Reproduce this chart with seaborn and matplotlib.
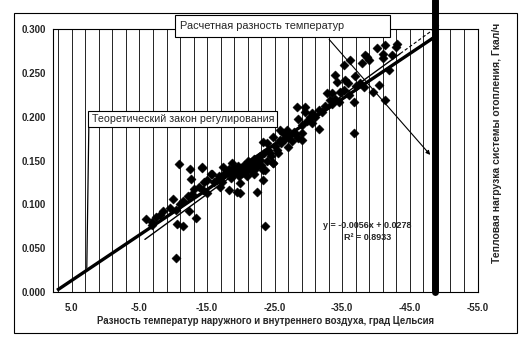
import matplotlib
matplotlib.use("Agg")
import matplotlib.pyplot as plt
import seaborn as sns
import pandas as pd
from matplotlib.patches import Rectangle

sns.set_style("white")
plt.rcParams['font.family'] = ['Liberation Sans', 'DejaVu Sans']

# scatter data (temperature difference, heat load)
temp_diff = [-5.9, -6.9, -6.8, -8.0, -9.9, -10.4, -10.5, -11.5, -10.4, -10.9,
             -12.5, -12.6, -14.2, -12.2, -12.4, -13.3, -14.4, -15.0, -15.6, -16.9,
             -16.7, -17.4, -18.2, -18.7, -18.9, -19.4, -19.9, -19.9, -20.4, -20.9,
             -21.4, -21.9, -22.4, -23.3, -23.3, -23.6, -23.3, -24.3, -24.8, -25.3,
             -25.8, -26.3, -22.9, -23.8, -24.8, -25.8, -26.8, -24.8, -23.6, -27.8,
             -29.0, -29.0, -28.3, -29.5, -28.5, -30.3, -30.5, -31.5, -31.5, -32.7,
             -33.2, -33.5, -34.5, -34.0, -34.2, -34.7, -35.2, -35.4, -35.9, -36.2,
             -35.2, -36.8, -36.7, -36.9, -37.7, -37.9, -38.2, -38.4, -38.7, -38.9,
             -39.6, -40.1, -40.4, -41.1, -41.4, -41.1, -41.4, -42.4, -42.9, -43.1,
             -41.9, -29.5, -14.2, -15.7,
             -16.0, -16.5, -17.0, -17.5, -18.0, -18.3, -18.8, -19.0, -19.3, -19.6,
             -20.0, -20.2, -20.5, -20.8, -21.0, -21.2, -21.5, -21.8, -22.0, -22.2,
             -22.5, -22.8, -23.0, -23.5, -23.8, -24.0, -24.5, -25.0, -25.5, -26.0,
             -26.5, -27.0, -27.2, -27.5, -28.0, -28.5, -29.0, -29.8, -30.5, -31.0,
             -32.0, -32.5, -33.5, -34.0, -36.0, -37.0, -14.5, -15.0, -13.8, -13.0,
             -12.8, -11.5, -11.0, -9.5, -8.5, -7.5, -17.2, -18.5, -19.8]
heat_load = [0.083, 0.080, 0.076, 0.088, 0.106, 0.094, 0.077, 0.075, 0.039, 0.146,
             0.140, 0.129, 0.142, 0.110, 0.092, 0.084, 0.116, 0.113, 0.135, 0.120,
             0.132, 0.143, 0.116, 0.147, 0.139, 0.114, 0.113, 0.124, 0.139, 0.132,
             0.147, 0.135, 0.114, 0.128, 0.139, 0.075, 0.171, 0.158, 0.147, 0.162,
             0.173, 0.181, 0.151, 0.170, 0.177, 0.185, 0.185, 0.147, 0.139, 0.183,
             0.181, 0.173, 0.211, 0.211, 0.197, 0.200, 0.204, 0.208, 0.186, 0.227,
             0.219, 0.227, 0.217, 0.248, 0.240, 0.228, 0.230, 0.242, 0.238, 0.265,
             0.259, 0.217, 0.181, 0.246, 0.238, 0.261, 0.234, 0.270, 0.268, 0.265,
             0.228, 0.278, 0.236, 0.272, 0.219, 0.267, 0.282, 0.270, 0.280, 0.283,
             0.253, 0.205, 0.143, 0.135,
             0.125, 0.128, 0.131, 0.135, 0.137, 0.140, 0.134, 0.142, 0.138, 0.144,
             0.141, 0.136, 0.145, 0.140, 0.150, 0.143, 0.138, 0.146, 0.152, 0.142,
             0.148, 0.155, 0.145, 0.158, 0.150, 0.162, 0.155, 0.166, 0.158, 0.170,
             0.175, 0.165, 0.178, 0.172, 0.180, 0.176, 0.190, 0.195, 0.193, 0.200,
             0.205, 0.212, 0.214, 0.220, 0.225, 0.235, 0.125, 0.128, 0.120, 0.118,
             0.112, 0.104, 0.100, 0.096, 0.092, 0.086, 0.126, 0.130, 0.132]

# theoretical control law line
theory_x = [7.2, -48.5]
theory_y = [0.002, 0.290]
# regression trend line (solid part and dashed extension)
trend_x = [-5.8, -43.6]
trend_y = [0.060, 0.272]
trend_ext_x = [-43.6, -49.5]
trend_ext_y = [0.272, 0.305]
# design temperature difference
design_x = -48.8

x_ticks = [5, -5, -15, -25, -35, -45, -55]
y_ticks = [0.0, 0.05, 0.10, 0.15, 0.20, 0.25, 0.30]
grid_x = list(range(7, -55, -2))

df = pd.DataFrame({"x": temp_diff, "y": heat_load})

fig = plt.figure(figsize=(5.29, 3.47), dpi=100)
ax = fig.add_axes([0.1002, 0.1585, 0.8034, 0.7579])

for g in grid_x:
    ax.axvline(g, color='black', lw=0.6, zorder=0)

sns.scatterplot(data=df, x="x", y="y", marker='D', color='black', s=22,
                edgecolor='black', linewidth=0.3, ax=ax, zorder=3)

ax.plot(theory_x, theory_y, color='black', lw=2.4, zorder=4, solid_capstyle='butt')
ax.plot(trend_x, trend_y, color='black', lw=1.0, zorder=4)
ax.plot(trend_ext_x, trend_ext_y, color='black', lw=0.8, ls=(0, (3, 2)), zorder=4, clip_on=False)
ax.axvline(design_x, ymin=0, ymax=1.11, color='black', lw=5, zorder=5, clip_on=False)

ax.set_xlim(7.8, -55.1)
ax.set_ylim(0, 0.3)
ax.set_xticks(x_ticks)
ax.set_xticklabels([f"{v:.1f}" for v in x_ticks])
ax.set_yticks(y_ticks)
ax.set_yticklabels([f"{v:.3f}" for v in y_ticks])
ax.tick_params(axis='both', length=0, labelsize=7)
ax.tick_params(axis='x', pad=8)
ax.tick_params(axis='y', pad=5)
for lab in ax.get_xticklabels() + ax.get_yticklabels():
    lab.set_fontweight('bold')
for sp in ax.spines.values():
    sp.set_color('black')
    sp.set_linewidth(0.8)

ax.set_xlabel("Разность температур наружного и внутреннего воздуха, град Цельсия",
              fontsize=6.9, fontweight='bold', labelpad=2)
ax.set_ylabel("")
fig.text(0.940, 0.588, "Тепловая нагрузка системы отопления, Гкал/ч", rotation=90,
         fontsize=7.5, fontweight='bold', ha='center', va='center')

# annotation boxes
ax.add_patch(Rectangle((-10.3, 0.291), -31.8, 0.025, fill=True, fc='white', ec='black',
                       lw=0.8, zorder=6, clip_on=False))
ax.text(-11.0, 0.3035, "Расчетная разность температур", fontsize=7.9, ha='left', va='center',
        zorder=7, clip_on=False)
ax.annotate("", xy=(-48.3, 0.154), xytext=(-32.8, 0.2905),
            arrowprops=dict(arrowstyle='-|>', color='black', lw=0.8, mutation_scale=6), zorder=6)

ax.add_patch(Rectangle((2.63, 0.188), -28.0, 0.018, fill=True, fc='white', ec='black',
                       lw=0.8, zorder=6))
ax.text(2.0, 0.197, "Теоретический закон регулирования", fontsize=7.7, ha='left', va='center',
        zorder=7)
ax.plot([2.5, 2.8], [0.188, 0.027], color='black', lw=0.9, zorder=6)

ax.text(-38.7, 0.069, "y = -0.0056x + 0.0278\nR² = 0.8933", fontsize=6.5, fontweight='bold',
        ha='center', va='center', linespacing=1.3, zorder=6)

fig.patches.append(Rectangle((0.026, 0.040), 0.951, 0.923, transform=fig.transFigure,
                             fill=False, ec='black', lw=0.8))

fig.savefig("out.png", dpi=100)
